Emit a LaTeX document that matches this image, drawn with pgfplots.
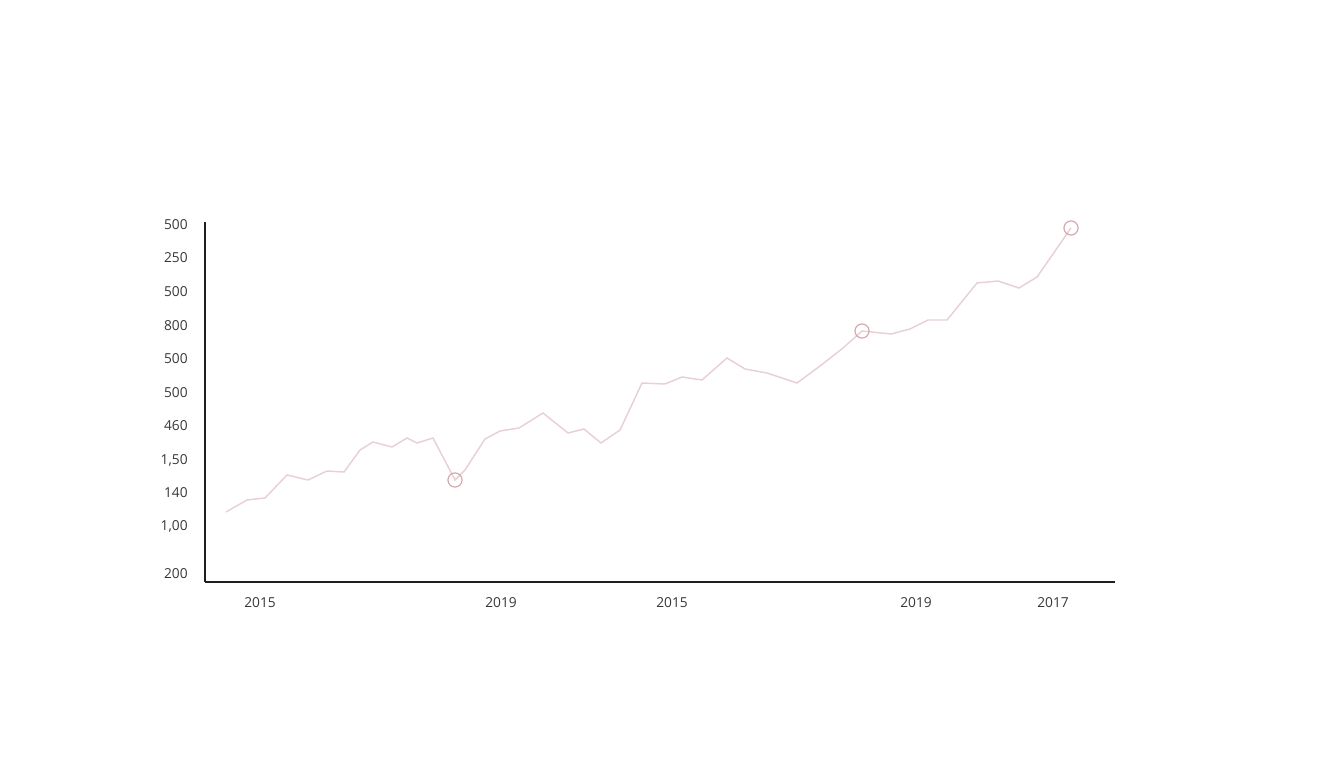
\documentclass[border=0pt]{standalone}
\usepackage{pgfplots}
\pgfplotsset{compat=1.18}
\usepackage{fontspec}
\setmainfont{Open Sans}
\definecolor{linepink}{RGB}{232,208,213}
\definecolor{markpink}{RGB}{212,168,174}
\definecolor{labelgray}{RGB}{55,55,55}
\definecolor{axisdark}{RGB}{30,30,30}
\begin{document}
\begin{tikzpicture}
\begin{axis}[
    x=0.75pt, y=0.75pt,
    xmin=205, xmax=1115,
    ymin=186, ymax=546,
    axis lines=left,
    axis line style={-, axisdark, line width=1.1pt},
    clip=false,
    major tick length=0pt,
    xtick={260,501,672,916,1053},
    xticklabels={2015,2019,2015,2019,2017},
    ytick={194,242,275,308,342,375,409,442,476,510,543},
    yticklabels={200,{1,00},140,{1,50},460,500,500,800,500,250,500},
    /pgf/number format/assume math mode=true,
    tick label style={font=\fontsize{10.3}{12}\selectfont, text=labelgray},
    xticklabel style={yshift=-8pt},
    yticklabel style={xshift=-9.5pt},
]
\addplot[linepink, line width=1.1pt, mark=none] coordinates {
(226,256) (247,268) (265,270) (287,293) (308,288) (327,297) (344,296)
(360,318) (373,326) (392,321) (407,330) (417,325) (433,330) (455,288)
(465,298) (485,329) (500,337) (519,340) (543,355) (568,335) (584,339)
(601,325) (620,338) (642,385) (665,384) (682,391) (702,388) (727,410)
(745,399) (767,395) (797,385) (820,402) (843,420) (862,437) (891,434)
(910,439) (928,448) (947,448) (977,485) (998,487) (1019,480) (1037,491)
(1071,540)
};
\addplot[only marks, mark=o, mark size=5.3pt,
    mark options={draw=markpink, fill=white, line width=0.9pt}] coordinates {
(455,288) (862,437) (1071,540)
};
\coordinate (bl) at (axis cs:0,0);
\coordinate (tr) at (axis cs:1344,768);
\end{axis}
\path (bl) rectangle (tr);
\end{tikzpicture}
\end{document}
